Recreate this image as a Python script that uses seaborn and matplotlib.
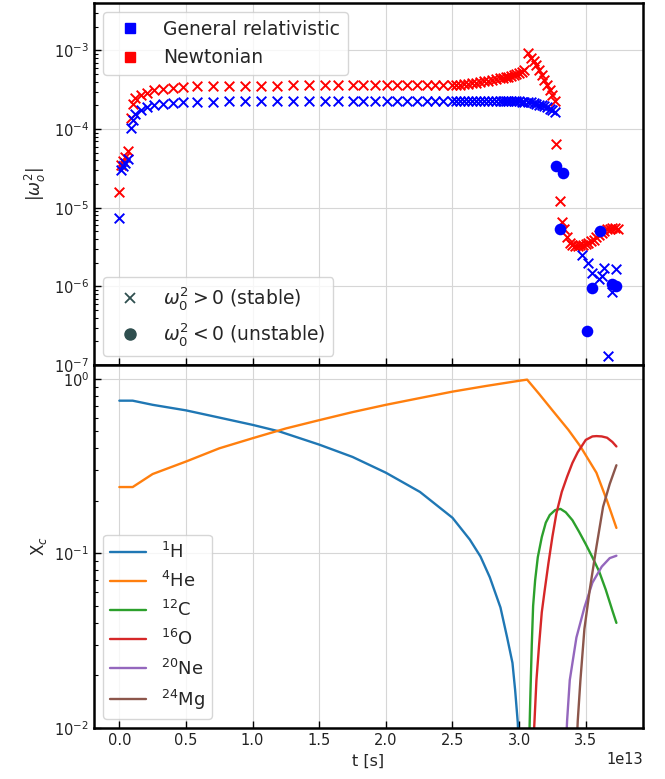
import numpy as np
import matplotlib
matplotlib.use("Agg")
import matplotlib.pyplot as plt
import seaborn as sns
from matplotlib.lines import Line2D

sns.set_style("ticks")
plt.rcParams['font.family'] = ['DejaVu Sans']
plt.rcParams['mathtext.fontset'] = 'dejavusans'

# ---------------- top panel data (t in units of 1e13 s) ----------------
t_main = [0.0, 0.015, 0.03, 0.045, 0.067, 0.09, 0.10, 0.12, 0.16, 0.21, 0.26, 0.33, 0.40, 0.48, 0.58, 0.70,
          0.82, 0.94, 1.06, 1.18, 1.30, 1.42, 1.54, 1.64, 1.75, 1.83, 1.92, 2.01, 2.08, 2.16, 2.23, 2.31, 2.37, 2.43, 2.50,
          2.53, 2.56, 2.59, 2.62, 2.65, 2.68, 2.71, 2.74, 2.77, 2.80, 2.83, 2.86, 2.88, 2.90, 2.92, 2.94, 2.96, 2.98, 3.00, 3.02, 3.04,
          3.07, 3.09, 3.11, 3.13, 3.15, 3.17, 3.19, 3.21, 3.23, 3.25, 3.27]
# |omega^2| in units of 1e-4
gr_main = [0.074, 0.30, 0.34, 0.37, 0.42, 1.03, 1.30, 1.55, 1.75, 1.88, 2.00, 2.10, 2.15, 2.20, 2.22, 2.24,
           2.25, 2.25, 2.26, 2.25, 2.25, 2.26, 2.25, 2.25, 2.26, 2.25, 2.25, 2.25, 2.26, 2.25, 2.25, 2.25, 2.25, 2.25, 2.25,
           2.25, 2.25, 2.25, 2.25, 2.25, 2.25, 2.25, 2.25, 2.25, 2.25, 2.25, 2.25, 2.25, 2.25, 2.25, 2.25, 2.25, 2.25, 2.25, 2.24, 2.24,
           2.22, 2.18, 2.14, 2.10, 2.05, 2.00, 1.95, 1.90, 1.82, 1.75, 1.65]
newt_main = [0.16, 0.35, 0.39, 0.44, 0.53, 1.40, 2.10, 2.45, 2.70, 2.90, 3.10, 3.20, 3.30, 3.40, 3.50, 3.55,
             3.55, 3.56, 3.57, 3.57, 3.58, 3.58, 3.58, 3.59, 3.59, 3.59, 3.60, 3.60, 3.60, 3.60, 3.61, 3.61, 3.61, 3.61, 3.62,
             3.62, 3.66, 3.71, 3.76, 3.82, 3.89, 3.96, 4.04, 4.12, 4.21, 4.30, 4.40, 4.48, 4.56, 4.65, 4.75, 4.86, 5.00, 5.15, 5.35, 5.60,
             9.2, 8.1, 7.3, 6.45, 5.6, 4.8, 4.2, 3.6, 3.1, 2.7, 2.27]

# late phase, values in units of 1e-6
t_newt_late = [3.28, 3.31, 3.32, 3.34, 3.36, 3.38, 3.40, 3.42, 3.44, 3.46, 3.48, 3.50, 3.52, 3.54, 3.56, 3.58,
               3.60, 3.62, 3.64, 3.66, 3.68, 3.70, 3.72, 3.74]
newt_late = [64, 12, 6.6, 5.3, 4.3, 3.6, 3.35, 3.3, 3.3, 3.35, 3.4, 3.5, 3.6, 3.75, 3.9, 4.2,
             4.5, 4.8, 5.1, 5.3, 5.4, 5.6, 5.5, 5.4]
t_gr_late_stable = [3.47, 3.52, 3.55, 3.60, 3.62, 3.64, 3.67, 3.70, 3.73]
gr_late_stable = [2.54, 2.01, 1.46, 1.23, 1.34, 1.69, 0.13, 0.84, 1.64]
t_gr_unstable = [3.276, 3.31, 3.33, 3.51, 3.55, 3.61, 3.70, 3.73]
gr_unstable = [34, 5.4, 27.7, 0.27, 0.94, 5.1, 1.06, 1.0]

# ---------------- bottom panel data ----------------
t_H = [0.0, 0.1, 0.25, 0.5, 0.75, 1.0, 1.2, 1.5, 1.75, 2.0, 2.256, 2.5, 2.63, 2.71, 2.78, 2.86, 2.91, 2.95, 2.97, 2.99, 3.005]
X_H = [0.75, 0.75, 0.71, 0.66, 0.60, 0.545, 0.50, 0.42, 0.357, 0.29, 0.225, 0.16, 0.12, 0.096, 0.073, 0.049, 0.033, 0.0236, 0.0165, 0.0107, 0.005]
t_He = [0.0, 0.1, 0.25, 0.5, 0.75, 1.0, 1.25, 1.5, 1.75, 2.0, 2.25, 2.5, 2.75, 3.0, 3.06, 3.15, 3.25, 3.37, 3.46, 3.58, 3.66, 3.73]
X_He = [0.24, 0.24, 0.285, 0.336, 0.40, 0.457, 0.52, 0.58, 0.645, 0.71, 0.775, 0.845, 0.91, 0.975, 0.99, 0.82, 0.66, 0.51, 0.41, 0.29, 0.20, 0.14]
t_C = [3.065, 3.075, 3.085, 3.095, 3.105, 3.12, 3.14, 3.17, 3.20, 3.23, 3.27, 3.31, 3.35, 3.40, 3.45, 3.50, 3.55, 3.60, 3.65, 3.70, 3.73]
X_C = [0.004, 0.008, 0.016, 0.030, 0.050, 0.070, 0.095, 0.124, 0.150, 0.166, 0.177, 0.180, 0.172, 0.155, 0.133, 0.113, 0.095, 0.079, 0.062, 0.047, 0.040]
t_O = [3.10, 3.11, 3.12, 3.13, 3.15, 3.17, 3.19, 3.22, 3.25, 3.28, 3.32, 3.36, 3.40, 3.44, 3.50, 3.55, 3.58, 3.62, 3.66, 3.70, 3.73]
X_O = [0.005, 0.009, 0.013, 0.0188, 0.030, 0.046, 0.060, 0.088, 0.125, 0.17, 0.225, 0.275, 0.33, 0.38, 0.447, 0.468, 0.47, 0.468, 0.46, 0.435, 0.41]
t_Ne = [3.345, 3.36, 3.38, 3.43, 3.49, 3.55, 3.62, 3.68, 3.73]
X_Ne = [0.006, 0.011, 0.0188, 0.033, 0.049, 0.068, 0.084, 0.094, 0.097]
t_Mg = [3.425, 3.44, 3.46, 3.49, 3.53, 3.58, 3.63, 3.68, 3.73]
X_Mg = [0.006, 0.011, 0.0188, 0.037, 0.062, 0.109, 0.185, 0.25, 0.32]

species_labels = [r'$^{1}$H', r'$^{4}$He', r'$^{12}$C', r'$^{16}$O', r'$^{20}$Ne', r'$^{24}$Mg']
species_t = [t_H, t_He, t_C, t_O, t_Ne, t_Mg]
species_X = [X_H, X_He, X_C, X_O, X_Ne, X_Mg]

# ---------------- figure ----------------
fig = plt.figure(figsize=(6.65, 7.79), dpi=100)
ax1 = fig.add_axes([0.1414, 0.5314, 0.8256, 0.4647])
ax2 = fig.add_axes([0.1414, 0.0655, 0.8256, 0.4659], sharex=ax1)

S = 1e13
xs = 48
os_ = 70
sns.scatterplot(x=np.array(t_main) * S, y=np.array(newt_main) * 1e-4, ax=ax1, marker='x', color='red',
                s=xs, linewidth=1.4, legend=False, zorder=3)
sns.scatterplot(x=np.array(t_newt_late) * S, y=np.array(newt_late) * 1e-6, ax=ax1, marker='x', color='red',
                s=xs, linewidth=1.4, legend=False, zorder=3)
sns.scatterplot(x=np.array(t_main) * S, y=np.array(gr_main) * 1e-4, ax=ax1, marker='x', color='blue',
                s=xs, linewidth=1.4, legend=False, zorder=4)
sns.scatterplot(x=np.array(t_gr_late_stable) * S, y=np.array(gr_late_stable) * 1e-6, ax=ax1, marker='x',
                color='blue', s=xs, linewidth=1.4, legend=False, zorder=4)
sns.scatterplot(x=np.array(t_gr_unstable) * S, y=np.array(gr_unstable) * 1e-6, ax=ax1, marker='o',
                color='blue', s=os_, linewidth=0, legend=False, zorder=5)

ax1.set_yscale('log')
ax1.set_ylim(1e-7, 4e-3)
ax1.set_xlim(-0.19 * S, 3.93 * S)
ax1.set_ylabel(r'$|\omega_o^2|$', fontsize=12)

h1 = [Line2D([], [], marker='s', color='blue', ls='none', markersize=7),
      Line2D([], [], marker='s', color='red', ls='none', markersize=7)]
leg1 = ax1.legend(h1, ['General relativistic', 'Newtonian'], loc='upper left', fontsize=13.5)
ax1.add_artist(leg1)
h2 = [Line2D([], [], marker='x', color='#2f4f4f', ls='none', markersize=7, markeredgewidth=1.3),
      Line2D([], [], marker='o', color='#2f4f4f', ls='none', markersize=8)]
ax1.legend(h2, [r'$\omega_0^2 > 0$ (stable)', r'$\omega_0^2 < 0$ (unstable)'], loc='lower left', fontsize=13.5)

pal = sns.color_palette('tab10')
for i, (tt, xx, lab) in enumerate(zip(species_t, species_X, species_labels)):
    sns.lineplot(x=np.array(tt) * S, y=np.array(xx), ax=ax2, color=pal[i], label=lab, linewidth=1.7, sort=False)

ax2.set_yscale('log')
ax2.set_ylim(1e-2, 1.2)
ax2.set_xlabel('t [s]', fontsize=11.5)
ax2.set_ylabel(r'X$_c$', fontsize=12)
ax2.legend(loc='lower left', fontsize=13)

for ax in (ax1, ax2):
    ax.grid(True, which='major', color='#d6d6d6', linewidth=0.8)
    ax.set_axisbelow(True)
    for sp in ax.spines.values():
        sp.set_color('black')
        sp.set_linewidth(1.8)
    ax.tick_params(which='both', direction='in', labelsize=10.5, colors='black', labelcolor='#222222')
    ax.tick_params(which='major', length=5, width=1.0)
    ax.tick_params(which='minor', length=3, width=0.8)
ax1.tick_params(labelbottom=False)
ax2.xaxis.get_offset_text().set_fontsize(10.5)

fig.savefig('out.png', dpi=100)
